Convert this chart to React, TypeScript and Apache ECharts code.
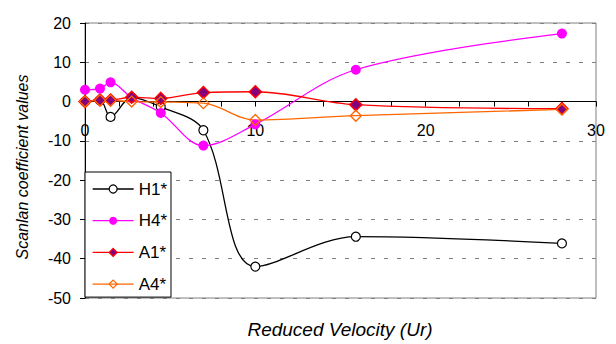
import React, { useEffect, useRef } from "react";
import * as echarts from "echarts";

const velocity = [0, 0.88, 1.5, 2.74, 4.45, 6.95, 10, 15.9, 28];
const h1 = [0, 0.3, -3.9, 1.0, -1.35, -7.3, -42, -34.4, -36.1];
const h4 = [3.0, 3.3, 4.9, 1.0, -2.9, -11.2, -5.8, 8.1, 17.3];
const a1 = [0, 0.4, 0.4, 1.1, 0.8, 2.3, 2.5, -0.8, -1.8];
const a4 = [0, 0.3, 0.3, 0, -0.1, -0.4, -4.7, -3.6, -2.0];
const seriesNames = ["H1*", "H4*", "A1*", "A4*"];
const xTitle = "Reduced Velocity (Ur)";
const yTitle = "Scanlan coefficient values";
const yMin = -50;
const yMax = 20;

const FONT = "'Liberation Sans', Arial, sans-serif";

const pairs = (ys: number[]) => velocity.map((x, i) => [x, ys[i]]);

const GRID_TOP = 23;
const GRID_BOTTOM = 46;
const CHART_H = 344;

export default function App() {
  const ref = useRef<HTMLDivElement>(null);
  useEffect(() => {
    if (!ref.current) return;
    const chart = echarts.init(ref.current, null, { renderer: "svg" });
    const smooth = 0.35;
    const plotH = CHART_H - GRID_TOP - GRID_BOTTOM;
    const zeroOffset = -(plotH * (0 - yMin)) / (yMax - yMin);
    chart.setOption({
      animation: false,
      backgroundColor: "#ffffff",
      textStyle: { fontFamily: FONT },
      grid: {
        left: 85,
        right: 20,
        top: GRID_TOP,
        bottom: GRID_BOTTOM,
        show: true,
        borderColor: "#808080",
        borderWidth: 1,
        backgroundColor: "transparent",
      },
      xAxis: {
        type: "value",
        min: 0,
        max: 30,
        interval: 10,
        position: "bottom",
        offset: zeroOffset,
        axisLine: { show: true, onZero: false, lineStyle: { color: "#000", width: 1 } },
        axisTick: { show: true, length: 5, lineStyle: { color: "#000" } },
        minorTick: { show: true, splitNumber: 5, length: 5, lineStyle: { color: "#000" } },
        splitLine: { show: false },
        axisLabel: { fontSize: 16, color: "#000", margin: 21, fontFamily: FONT },
      },
      yAxis: {
        type: "value",
        min: yMin,
        max: yMax,
        interval: 10,
        axisLine: { show: true, onZero: false, lineStyle: { color: "#000", width: 1 } },
        axisTick: { show: true, length: 5, lineStyle: { color: "#000" } },
        splitLine: { show: true, lineStyle: { color: "#808080", type: [4, 9], width: 1 } },
        axisLabel: { fontSize: 16, color: "#000", margin: 14, fontFamily: FONT },
      },
      legend: {
        orient: "vertical",
        left: 85,
        top: 172,
        data: seriesNames,
        backgroundColor: "#ffffff",
        borderColor: "#000",
        borderWidth: 1,
        borderRadius: 0,
        padding: [8, 4, 4, 7],
        itemWidth: 41,
        itemHeight: 10,
        itemGap: 13.7,
        lineStyle: { width: 1.3 },
        itemStyle: { borderWidth: 1.2 },
        textStyle: { fontSize: 17, color: "#000", lineHeight: 18, fontFamily: FONT },
      },
      graphic: [
        {
          type: "text",
          x: 340,
          y: 329,
          style: {
            text: xTitle,
            align: "center",
            verticalAlign: "middle",
            fontSize: 19,
            fontStyle: "italic",
            fontFamily: FONT,
            fill: "#000",
          },
        },
        {
          type: "text",
          x: 22,
          y: 167,
          rotation: Math.PI / 2,
          style: {
            text: yTitle,
            align: "center",
            verticalAlign: "middle",
            fontSize: 16,
            fontStyle: "italic",
            fontFamily: FONT,
            fill: "#000",
          },
        },
      ],
      series: [
        {
          name: seriesNames[0],
          type: "line",
          data: pairs(h1),
          smooth,
          symbol: "circle",
          symbolSize: 9,
          itemStyle: { color: "#ffffff", borderColor: "#000000", borderWidth: 1.2 },
          lineStyle: { color: "#000000", width: 1.3 },
        },
        {
          name: seriesNames[1],
          type: "line",
          data: pairs(h4),
          smooth,
          symbol: "circle",
          symbolSize: 10,
          itemStyle: { color: "#ff00ff", borderWidth: 0 },
          lineStyle: { color: "#ff00ff", width: 1.3 },
        },
        {
          name: seriesNames[2],
          type: "line",
          data: pairs(a1),
          smooth,
          symbol: "diamond",
          symbolSize: 12,
          itemStyle: { color: "#800080", borderColor: "#ff0000", borderWidth: 1.5 },
          lineStyle: { color: "#ff0000", width: 1.3 },
        },
        {
          name: seriesNames[3],
          type: "line",
          data: pairs(a4),
          smooth,
          symbol: "diamond",
          symbolSize: 11,
          itemStyle: { color: "transparent", borderColor: "#ff6600", borderWidth: 1.3 },
          lineStyle: { color: "#ff6600", width: 1.3 },
        },
      ],
    });
    return () => chart.dispose();
  }, []);
  return (
    <div
      ref={ref}
      style={{ position: "fixed", left: 0, top: 0, width: 616, height: 344 }}
    />
  );
}
